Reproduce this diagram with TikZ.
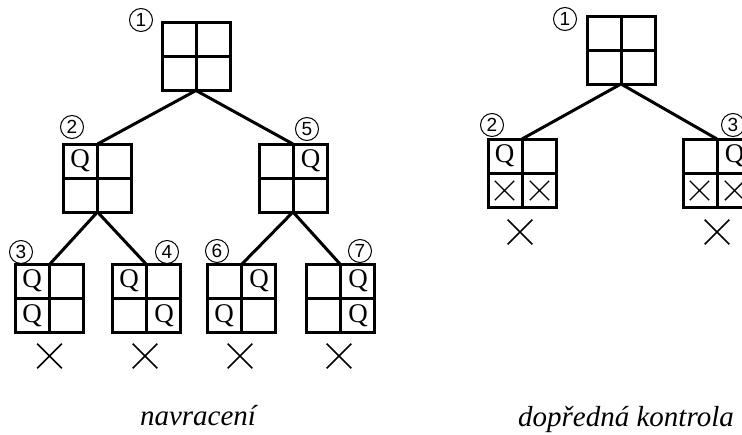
\documentclass[tikz,border=0pt]{standalone}
\usepackage{fontspec}
\setmainfont{Liberation Serif}
\newfontfamily\numfont{Liberation Sans}
\usetikzlibrary{shapes.misc}
\begin{document}
\begin{tikzpicture}[x=1pt,y=-1pt,
  board/.style={draw, line width=3pt, minimum size=68pt, inner sep=0pt, outer sep=0pt,
    path picture={\draw[line width=3pt]
      (path picture bounding box.north) -- (path picture bounding box.south)
      (path picture bounding box.west) -- (path picture bounding box.east);}},
  edge/.style={line width=3pt},
  queen/.style={font=\fontsize{27}{27}\selectfont, inner sep=0pt},
  tl/.style={xshift=-17.5pt, yshift=17.5pt},
  tr/.style={xshift=17.5pt, yshift=17.5pt},
  bl/.style={xshift=-17.5pt, yshift=-17.5pt},
  br/.style={xshift=17.5pt, yshift=-17.5pt},
  cellx/.style={cross out, draw, line width=1.4pt, minimum size=18pt, inner sep=0pt},
  deadend/.style={cross out, draw, line width=1.7pt, minimum size=23pt, inner sep=0pt},
  num/.style={circle, draw, line width=1pt, minimum size=23pt, inner sep=0pt,
    font=\numfont\fontsize{19}{19}\selectfont},
  caption/.style={font=\itshape\fontsize{29}{29}\selectfont, anchor=base, inner sep=0pt}]
\useasboundingbox (0,0) rectangle (742,434);

% backtracking tree
\node[board] (b1) at (196,56.5) {};
\node[board] (b2) at (97.5,178) {};
\node[board] (b5) at (293,178) {};
\node[board] (b3) at (49.5,298.5) {};
\node[board] (b4) at (146.5,298.5) {};
\node[board] (b6) at (241.5,298.5) {};
\node[board] (b7) at (340.5,298.5) {};

\draw[edge] (b1.south) -- (b2.north);
\draw[edge] (b1.south) -- (b5.north);
\draw[edge] (b2.south) -- (b3.north);
\draw[edge] (b2.south) -- (b4.north);
\draw[edge] (b5.south) -- (b6.north);
\draw[edge] (b5.south) -- (b7.north);

\node[queen,tl] (q2a) at (b2.center) {Q};
\node[queen,tr] (q5a) at (b5.center) {Q};
\node[queen,tl] (q3a) at (b3.center) {Q};
\node[queen,bl] (q3b) at (b3.center) {Q};
\node[queen,tl] (q4a) at (b4.center) {Q};
\node[queen,br] (q4b) at (b4.center) {Q};
\node[queen,tr] (q6a) at (b6.center) {Q};
\node[queen,bl] (q6b) at (b6.center) {Q};
\node[queen,tr] (q7a) at (b7.center) {Q};
\node[queen,br] (q7b) at (b7.center) {Q};

\node[deadend] (x3) at (49.5,356) {};
\node[deadend] (x4) at (145,356) {};
\node[deadend] (x6) at (240,356) {};
\node[deadend] (x7) at (339,356) {};

\node[num] (n1) at (141,20) {1};
\node[num] (n2) at (72,127) {2};
\node[num] (n5) at (307,129) {5};
\node[num] (n3) at (21,252) {3};
\node[num] (n4) at (167,252) {4};
\node[num] (n6) at (217,251) {6};
\node[num] (n7) at (360,251) {7};

\node[caption] (c1) at (198,425) {navracení};

% forward checking tree
\node[board] (r1) at (621,50) {};
\node[board] (r2) at (522,173) {};
\node[board] (r3) at (717,173) {};

\draw[edge] (r1.south) -- (r2.north);
\draw[edge] (r1.south) -- (r3.north);

\node[queen,tl] (s2a) at (r2.center) {Q};
\node[cellx,bl] (s2b) at (r2.center) {};
\node[cellx,br] (s2c) at (r2.center) {};
\node[queen,tr] (s3a) at (r3.center) {Q};
\node[cellx,bl] (s3b) at (r3.center) {};
\node[cellx,br] (s3c) at (r3.center) {};

\node[deadend] (y2) at (520,232) {};
\node[deadend] (y3) at (717,232) {};

\node[num] (m1) at (565,19) {1};
\node[num] (m2) at (492,125) {2};
\node[num] (m3) at (733,125) {3};

\node[caption] (c2) at (626,426) {dopředná kontrola};
\end{tikzpicture}
\end{document}
